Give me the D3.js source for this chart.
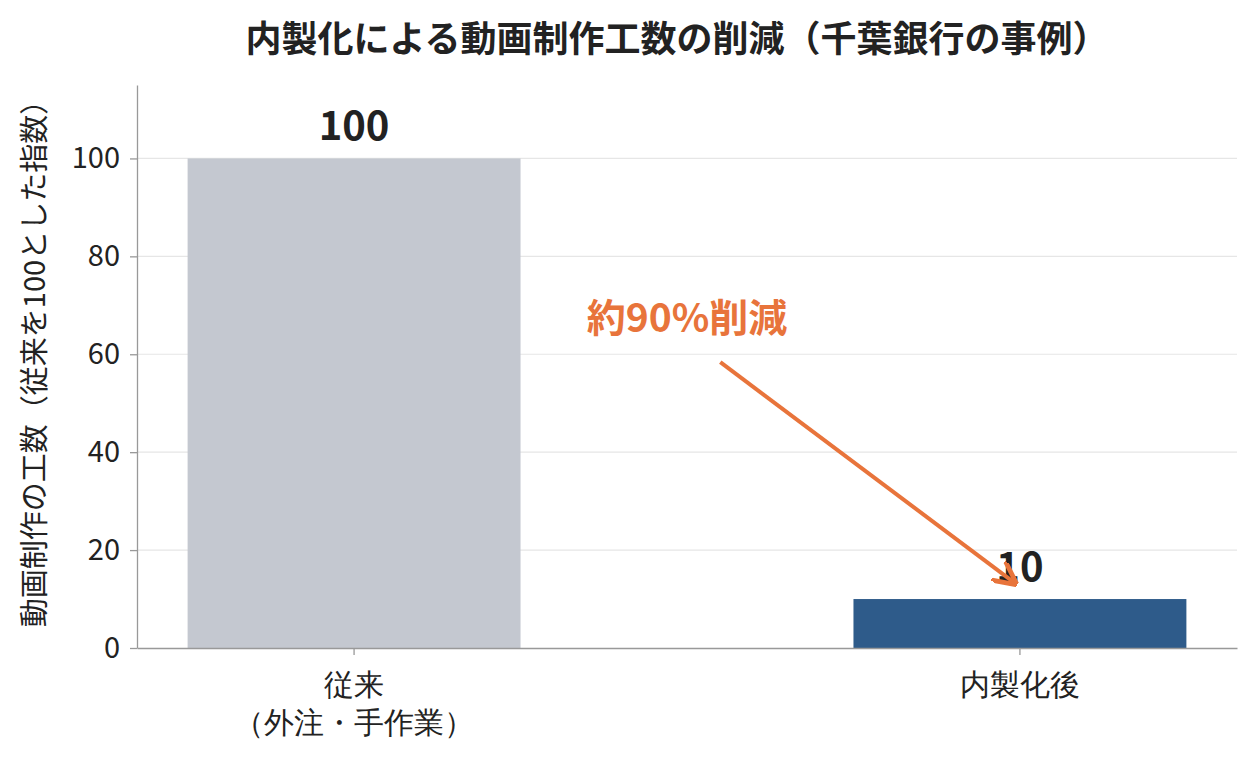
<!DOCTYPE html>
<html><head><meta charset="utf-8">
<script src="https://cdn.jsdelivr.net/npm/d3@7"></script>
<style>body{margin:0;background:#fff;font-family:"Noto Sans CJK JP","Noto Sans",sans-serif;}</style>
</head><body><svg id="chart" width="1255" height="763"></svg>
<script>
var categories = ["従来\n（外注・手作業）", "内製化後"];
var values = [100, 10];
var colors = ["#c4c8d0", "#2e5b8a"];
var yTicks = [0, 20, 40, 60, 80, 100];

var margin = {top: 85, right: 18, bottom: 115, left: 137};
var width = 1255 - margin.left - margin.right;
var height = 763 - margin.top - margin.bottom;

var svg = d3.select("#chart");
var g = svg.append("g").attr("transform", "translate(" + margin.left + "," + margin.top + ")");

var x = d3.scaleBand().domain(categories).range([0, width]).paddingInner(0.5).paddingOuter(0.076);
var y = d3.scaleLinear().domain([0, 115]).range([height, 0]);

// grid
g.selectAll(".grid").data(yTicks.slice(1)).enter().append("line")
    .attr("x1", 0).attr("x2", width)
    .attr("y1", function (d) {return y(d);}).attr("y2", function (d) {return y(d);})
    .attr("stroke", "#e6e6e6").attr("stroke-width", 1.2);

// bars
g.selectAll(".bar").data(values).enter().append("rect")
    .attr("x", function (d, i) {return x(categories[i]);})
    .attr("y", function (d) {return y(d);})
    .attr("width", x.bandwidth())
    .attr("height", function (d) {return height - y(d);})
    .attr("fill", function (d, i) {return colors[i];});

g.selectAll(".val").data(values).enter().append("text")
    .attr("x", function (d, i) {return x(categories[i]) + x.bandwidth() / 2;})
    .attr("y", function (d) {return y(d) - 18;})
    .attr("text-anchor", "middle").attr("font-size", 40).attr("font-weight", "bold")
    .attr("fill", "#222").text(function (d) {return d;});

// axes
var yAxis = g.append("g").call(d3.axisLeft(y).tickValues(yTicks).tickSize(7).tickPadding(10).tickSizeOuter(0));
yAxis.selectAll("text").attr("font-size", 29).attr("fill", "#222").attr("font-family", "Noto Sans CJK JP");
var xAxis = g.append("g").attr("transform", "translate(0," + height + ")")
    .call(d3.axisBottom(x).tickSize(7).tickSizeOuter(0));
xAxis.selectAll("text").remove();
xAxis.selectAll(".tick").append("text")
    .attr("text-anchor", "middle").attr("font-size", 30).attr("fill", "#222")
    .selectAll("tspan").data(function (d) {return d.split("\n");}).enter().append("tspan")
    .attr("x", 0).attr("y", function (d, i) {return 47 + i * 38;}).text(function (d) {return d;});
svg.selectAll(".domain, .tick line").attr("stroke", "#999").attr("stroke-width", 1.3);

// annotation
var orange = "#e8743b";
svg.append("defs").append("marker").attr("id", "ah").attr("viewBox", "0 0 10 10")
    .attr("refX", 8).attr("refY", 5).attr("markerWidth", 6).attr("markerHeight", 6).attr("orient", "auto")
    .append("path").attr("d", "M0,0 L10,5 L0,10").attr("fill", "none").attr("stroke", orange).attr("stroke-width", 2);
var x0 = x(categories[0]) + x.bandwidth(), x1 = x(categories[1]);
g.append("line")
    .attr("x1", x0 + (x1 - x0) * 0.6).attr("y1", y(58.4))
    .attr("x2", x1 + x.bandwidth() * 0.48).attr("y2", y(13.5))
    .attr("stroke", orange).attr("stroke-width", 4).attr("marker-end", "url(#ah)");
g.append("text").attr("x", x0 + (x1 - x0) * 0.5).attr("y", y(64.5))
    .attr("text-anchor", "middle").attr("font-size", 39).attr("font-weight", "bold")
    .attr("fill", orange).text("約90%削減");

// title & label
svg.append("text").attr("x", 677).attr("y", 52).attr("text-anchor", "middle")
    .attr("font-size", 36).attr("font-weight", "bold").attr("fill", "#222")
    .text("内製化による動画制作工数の削減（千葉銀行の事例）");
svg.append("text").attr("transform", "translate(45," + (margin.top + height / 2 - 10) + ") rotate(-90)")
    .attr("text-anchor", "middle").attr("font-size", 29).attr("fill", "#222")
    .text("動画制作の工数（従来を100とした指数）");
</script></body></html>
